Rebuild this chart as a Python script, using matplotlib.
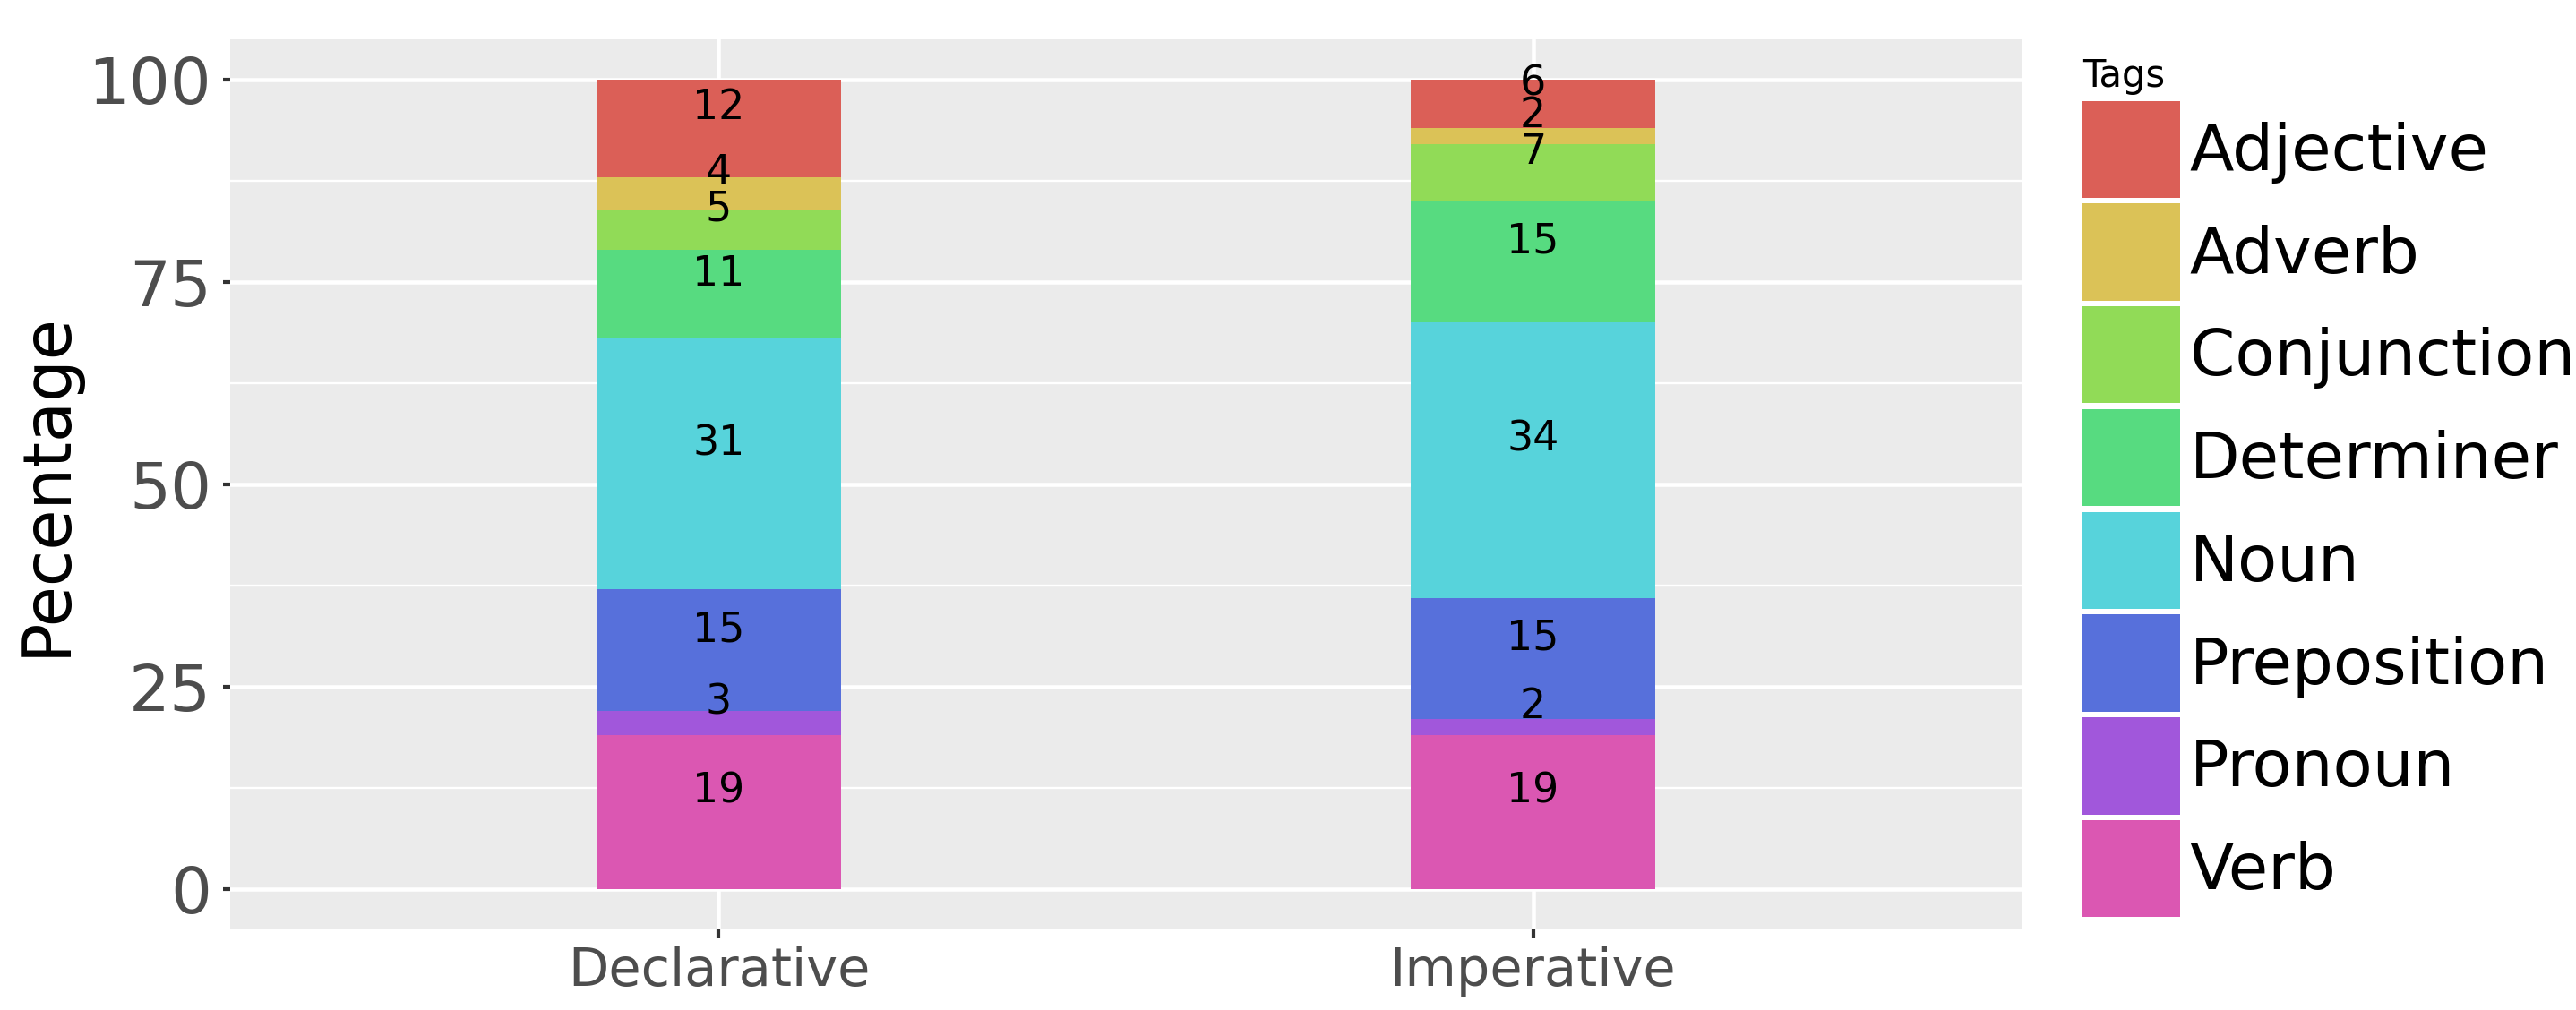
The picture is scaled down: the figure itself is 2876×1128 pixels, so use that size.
import numpy as np
import matplotlib
matplotlib.use("Agg")
import matplotlib.pyplot as plt
import seaborn as sns
from matplotlib.patches import Patch
from matplotlib.ticker import MultipleLocator

sentence_types = ["Declarative", "Imperative"]
tags = ["Adjective", "Adverb", "Conjunction", "Determiner",
        "Noun", "Preposition", "Pronoun", "Verb"]
# percentage of each tag, same order as tags
declarative = [12, 4, 5, 11, 31, 15, 3, 19]
imperative = [6, 2, 7, 15, 34, 15, 2, 19]
y_ticks = [0, 25, 50, 75, 100]

colors = sns.color_palette("hls", len(tags))

fig = plt.figure(figsize=(28.76, 11.28), dpi=100)
ax = fig.add_axes([257 / 2876, 90 / 1128, 2000 / 2876, 994 / 1128])
ax.set_facecolor("#EBEBEB")

values = np.array([declarative, imperative])
x = np.arange(len(sentence_types))
bottom = np.zeros(len(sentence_types))

# stack from Verb at the bottom up to Adjective on top
for i in reversed(range(len(tags))):
    h = values[:, i]
    ax.bar(x, h, width=0.3, bottom=bottom, color=colors[i], zorder=2)
    for xi, b, v in zip(x, bottom, h):
        ax.text(xi, b + v / 2, str(v), ha="center", va="bottom",
                fontsize=33, color="black", zorder=3)
    bottom += h

ax.set_xlim(-0.6, 1.6)
ax.set_ylim(-5, 105)
ax.set_xticks(x)
ax.set_xticklabels(sentence_types)
ax.set_yticks(y_ticks)
ax.yaxis.set_minor_locator(MultipleLocator(12.5))

ax.grid(which="major", color="white", linewidth=3.3, zorder=1)
ax.grid(which="minor", axis="y", color="white", linewidth=1.7, zorder=1)
ax.set_axisbelow(True)
for s in ax.spines.values():
    s.set_visible(False)

ax.tick_params(axis="y", which="major", length=6, width=3.0, color="#333333",
               labelsize=52, labelcolor="#4D4D4D", pad=9)
ax.tick_params(axis="x", which="major", length=7, width=3.0, color="#333333",
               labelsize=42.5, labelcolor="#4D4D4D", pad=6)
ax.tick_params(which="minor", length=0)

ax.set_ylabel("Pecentage", fontsize=53, color="black")
ax.yaxis.set_label_coords(-0.084, 0.5)

handles = [Patch(facecolor=colors[i], label=tags[i]) for i in range(len(tags))]
fig.legend(handles=handles, title="Tags", loc="upper left",
           bbox_to_anchor=(2325 / 2876, 1 - 64 / 1128), frameon=False,
           fontsize=52, title_fontsize=30, handlelength=1.51, handleheight=1.93,
           labelspacing=0.09, handletextpad=0.15, borderpad=0,
           borderaxespad=0, alignment="left")

fig.savefig("out.png", dpi=100)
